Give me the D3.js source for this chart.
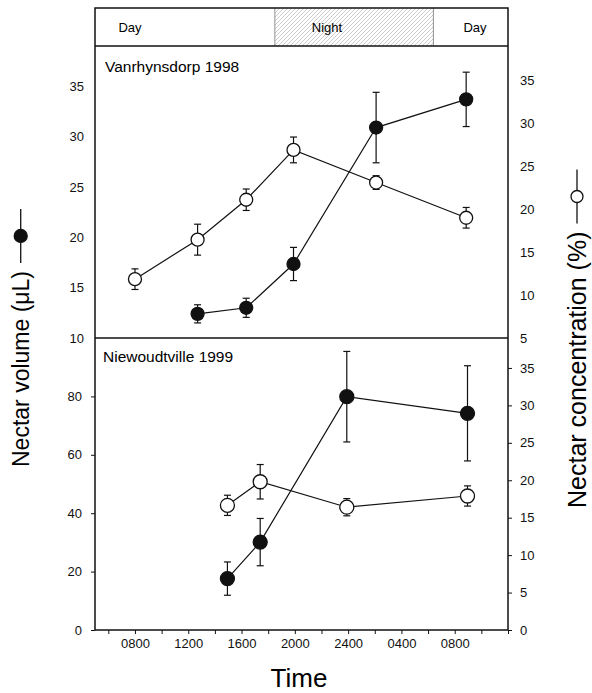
<!DOCTYPE html>
<html>
<head>
<meta charset="utf-8">
<script src="https://cdn.jsdelivr.net/npm/d3@7"></script>
<style>
  body { margin: 0; background: #fff; }
  svg { display: block; font-family: "Liberation Sans", Arial, sans-serif; }
  .tick text { font-size: 13px; fill: #111; }
  .tick line { stroke: #111; stroke-width: 1; }
</style>
</head>
<body>
<svg width="592" height="693"></svg>
<script>
// time in hours since midnight of day 1 (0800 next day = 32)
var timeTicks = [8, 12, 16, 20, 24, 28, 32];
var timeLabels = ["0800", "1200", "1600", "2000", "2400", "0400", "0800"];
var night = [18.5, 30.4];

// Vanrhynsdorp 1998
var vanVolTime = [12.7, 16.35, 19.9, 26.1, 32.86];
var vanVol = [12.4, 13.0, 17.35, 30.9, 33.7];
var vanVolErr = [0.9, 0.95, 1.65, 3.5, 2.7];
var vanConcTime = [8, 12.7, 16.35, 19.9, 26.1, 32.86];
var vanConc = [11.85, 16.45, 21.1, 26.9, 23.1, 19.0];
var vanConcErr = [1.2, 1.8, 1.25, 1.5, 0.8, 1.2];

// Niewoudtville 1999
var niewTime = [14.94, 17.4, 23.9, 32.96];
var niewVol = [17.6, 30.1, 79.9, 74.2];
var niewVolErr = [5.7, 8.1, 15.5, 16.3];
var niewConc = [16.65, 19.8, 16.4, 17.9];
var niewConcErr = [1.35, 2.3, 1.15, 1.35];

var svg = d3.select("svg");
var leftX = 95, rightX = 508, topY = 8, bandBottom = 46, mid = 338, bottomY = 630;

var x = d3.scaleLinear().domain([5, 36]).range([leftX, rightX]);

var yVolA = d3.scaleLinear().domain([10, 39]).range([mid, bandBottom]);
var yConcA = d3.scaleLinear().domain([5, 39]).range([mid, bandBottom]);
var yVolB = d3.scaleLinear().domain([0, 100]).range([bottomY, mid]);
var yConcB = d3.scaleLinear().domain([0, 39]).range([bottomY, mid]);

// hatch for night
var defs = svg.append("defs");
defs.append("pattern")
    .attr("id", "hatch")
    .attr("patternUnits", "userSpaceOnUse")
    .attr("width", 4).attr("height", 4)
  .append("path")
    .attr("d", "M-1,1 l2,-2 M0,4 l4,-4 M3,5 l2,-2")
    .attr("stroke", "#aaa")
    .attr("stroke-width", 0.6);

svg.append("rect")
    .attr("x", x(night[0])).attr("y", topY)
    .attr("width", x(night[1]) - x(night[0]))
    .attr("height", bandBottom - topY)
    .attr("fill", "url(#hatch)");

[night[0], night[1]].forEach(function(t) {
    svg.append("line")
        .attr("x1", x(t)).attr("x2", x(t))
        .attr("y1", topY).attr("y2", bandBottom)
        .attr("stroke", "#777").attr("stroke-width", 0.8);
});

var bandText = [["Day", 130], ["Night", 327], ["Day", 475]];
svg.selectAll(".band")
    .data(bandText)
    .enter().append("text")
    .attr("x", d => d[1]).attr("y", 32)
    .attr("text-anchor", "middle")
    .style("font-size", "13px")
    .text(d => d[0]);

// axes
var xAxis = d3.axisBottom(x)
    .tickValues(d3.range(6, 37, 2))
    .tickSize(4).tickPadding(5)
    .tickFormat(function(d) {
        var i = timeTicks.indexOf(d);
        return i >= 0 ? timeLabels[i] : "";
    });
svg.append("g").attr("transform", "translate(0," + bottomY + ")").call(xAxis)
    .call(g => g.select(".domain").remove());

svg.append("g").attr("transform", "translate(" + leftX + ",0)")
    .call(d3.axisLeft(yVolA).tickValues(d3.range(10, 36, 5)).tickSize(0).tickPadding(11))
    .call(g => g.select(".domain").remove());
svg.append("g").attr("transform", "translate(" + rightX + ",0)")
    .call(d3.axisRight(yConcA).tickValues(d3.range(5, 36, 5)).tickSize(0).tickPadding(12))
    .call(g => g.select(".domain").remove());
svg.append("g").attr("transform", "translate(" + leftX + ",0)")
    .call(d3.axisLeft(yVolB).tickValues([0, 20, 40, 60, 80]).tickSize(4).tickPadding(9))
    .call(g => g.select(".domain").remove());
svg.append("g").attr("transform", "translate(" + rightX + ",0)")
    .call(d3.axisRight(yConcB).tickValues(d3.range(0, 36, 5)).tickSize(4).tickPadding(8))
    .call(g => g.select(".domain").remove());

// frame
svg.append("rect")
    .attr("x", leftX).attr("y", topY)
    .attr("width", rightX - leftX).attr("height", bottomY - topY)
    .attr("fill", "none").attr("stroke", "#111").attr("stroke-width", 1.5);
[bandBottom, mid].forEach(function(yy) {
    svg.append("line")
        .attr("x1", leftX).attr("x2", rightX)
        .attr("y1", yy).attr("y2", yy)
        .attr("stroke", "#111").attr("stroke-width", 1.5);
});

// panel titles
svg.append("text").attr("x", 105).attr("y", 72).style("font-size", "15.5px").text("Vanrhynsdorp 1998");
svg.append("text").attr("x", 103).attr("y", 362).style("font-size", "15.5px").text("Niewoudtville 1999");

function series(times, vals, errs, y, filled, r) {
    var pts = times.map((t, i) => ({ t: t, v: vals[i], e: errs[i] }));
    var g = svg.append("g");
    g.append("path")
        .datum(pts)
        .attr("fill", "none").attr("stroke", "#111").attr("stroke-width", 1.2)
        .attr("d", d3.line().x(d => x(d.t)).y(d => y(d.v)));
    var eb = g.selectAll(".err").data(pts).enter().append("g");
    eb.append("line")
        .attr("x1", d => x(d.t)).attr("x2", d => x(d.t))
        .attr("y1", d => y(d.v + d.e)).attr("y2", d => y(d.v - d.e))
        .attr("stroke", "#111").attr("stroke-width", 1.2);
    eb.append("line")
        .attr("x1", d => x(d.t) - 3.5).attr("x2", d => x(d.t) + 3.5)
        .attr("y1", d => y(d.v + d.e)).attr("y2", d => y(d.v + d.e))
        .attr("stroke", "#111").attr("stroke-width", 1.2);
    eb.append("line")
        .attr("x1", d => x(d.t) - 3.5).attr("x2", d => x(d.t) + 3.5)
        .attr("y1", d => y(d.v - d.e)).attr("y2", d => y(d.v - d.e))
        .attr("stroke", "#111").attr("stroke-width", 1.2);
    g.selectAll("circle").data(pts).enter().append("circle")
        .attr("cx", d => x(d.t)).attr("cy", d => y(d.v))
        .attr("r", r)
        .attr("fill", filled ? "#111" : "#fff")
        .attr("stroke", "#111").attr("stroke-width", 1.3);
}

series(vanConcTime, vanConc, vanConcErr, yConcA, false, 6.5);
series(vanVolTime, vanVol, vanVolErr, yVolA, true, 6.5);
series(niewTime, niewConc, niewConcErr, yConcB, false, 7);
series(niewTime, niewVol, niewVolErr, yVolB, true, 7);

// axis titles with symbol keys
function yTitle(label, xb, y0, filled, size) {
    var t = svg.append("text")
        .attr("transform", "translate(" + xb + "," + y0 + ") rotate(-90)")
        .style("font-size", size + "px")
        .text(label);
    var len = t.node().getComputedTextLength();
    var cx = xb - size * 0.36;
    var s1 = y0 - len - 8, s2 = s1 - 54;
    svg.append("line")
        .attr("x1", cx).attr("x2", cx).attr("y1", s1).attr("y2", s2)
        .attr("stroke", "#111").attr("stroke-width", 1.3);
    svg.append("circle")
        .attr("cx", cx).attr("cy", (s1 + s2) / 2).attr("r", filled ? 6.5 : 6)
        .attr("fill", filled ? "#111" : "#fff")
        .attr("stroke", "#111").attr("stroke-width", 1.3);
}
yTitle("Nectar volume (\u03bcL)", 29, 467, true, 23);
yTitle("Nectar concentration (%)", 586, 508, false, 25);

svg.append("text")
    .attr("x", 299).attr("y", 687)
    .attr("text-anchor", "middle")
    .style("font-size", "26px")
    .text("Time");
</script>
</body>
</html>
